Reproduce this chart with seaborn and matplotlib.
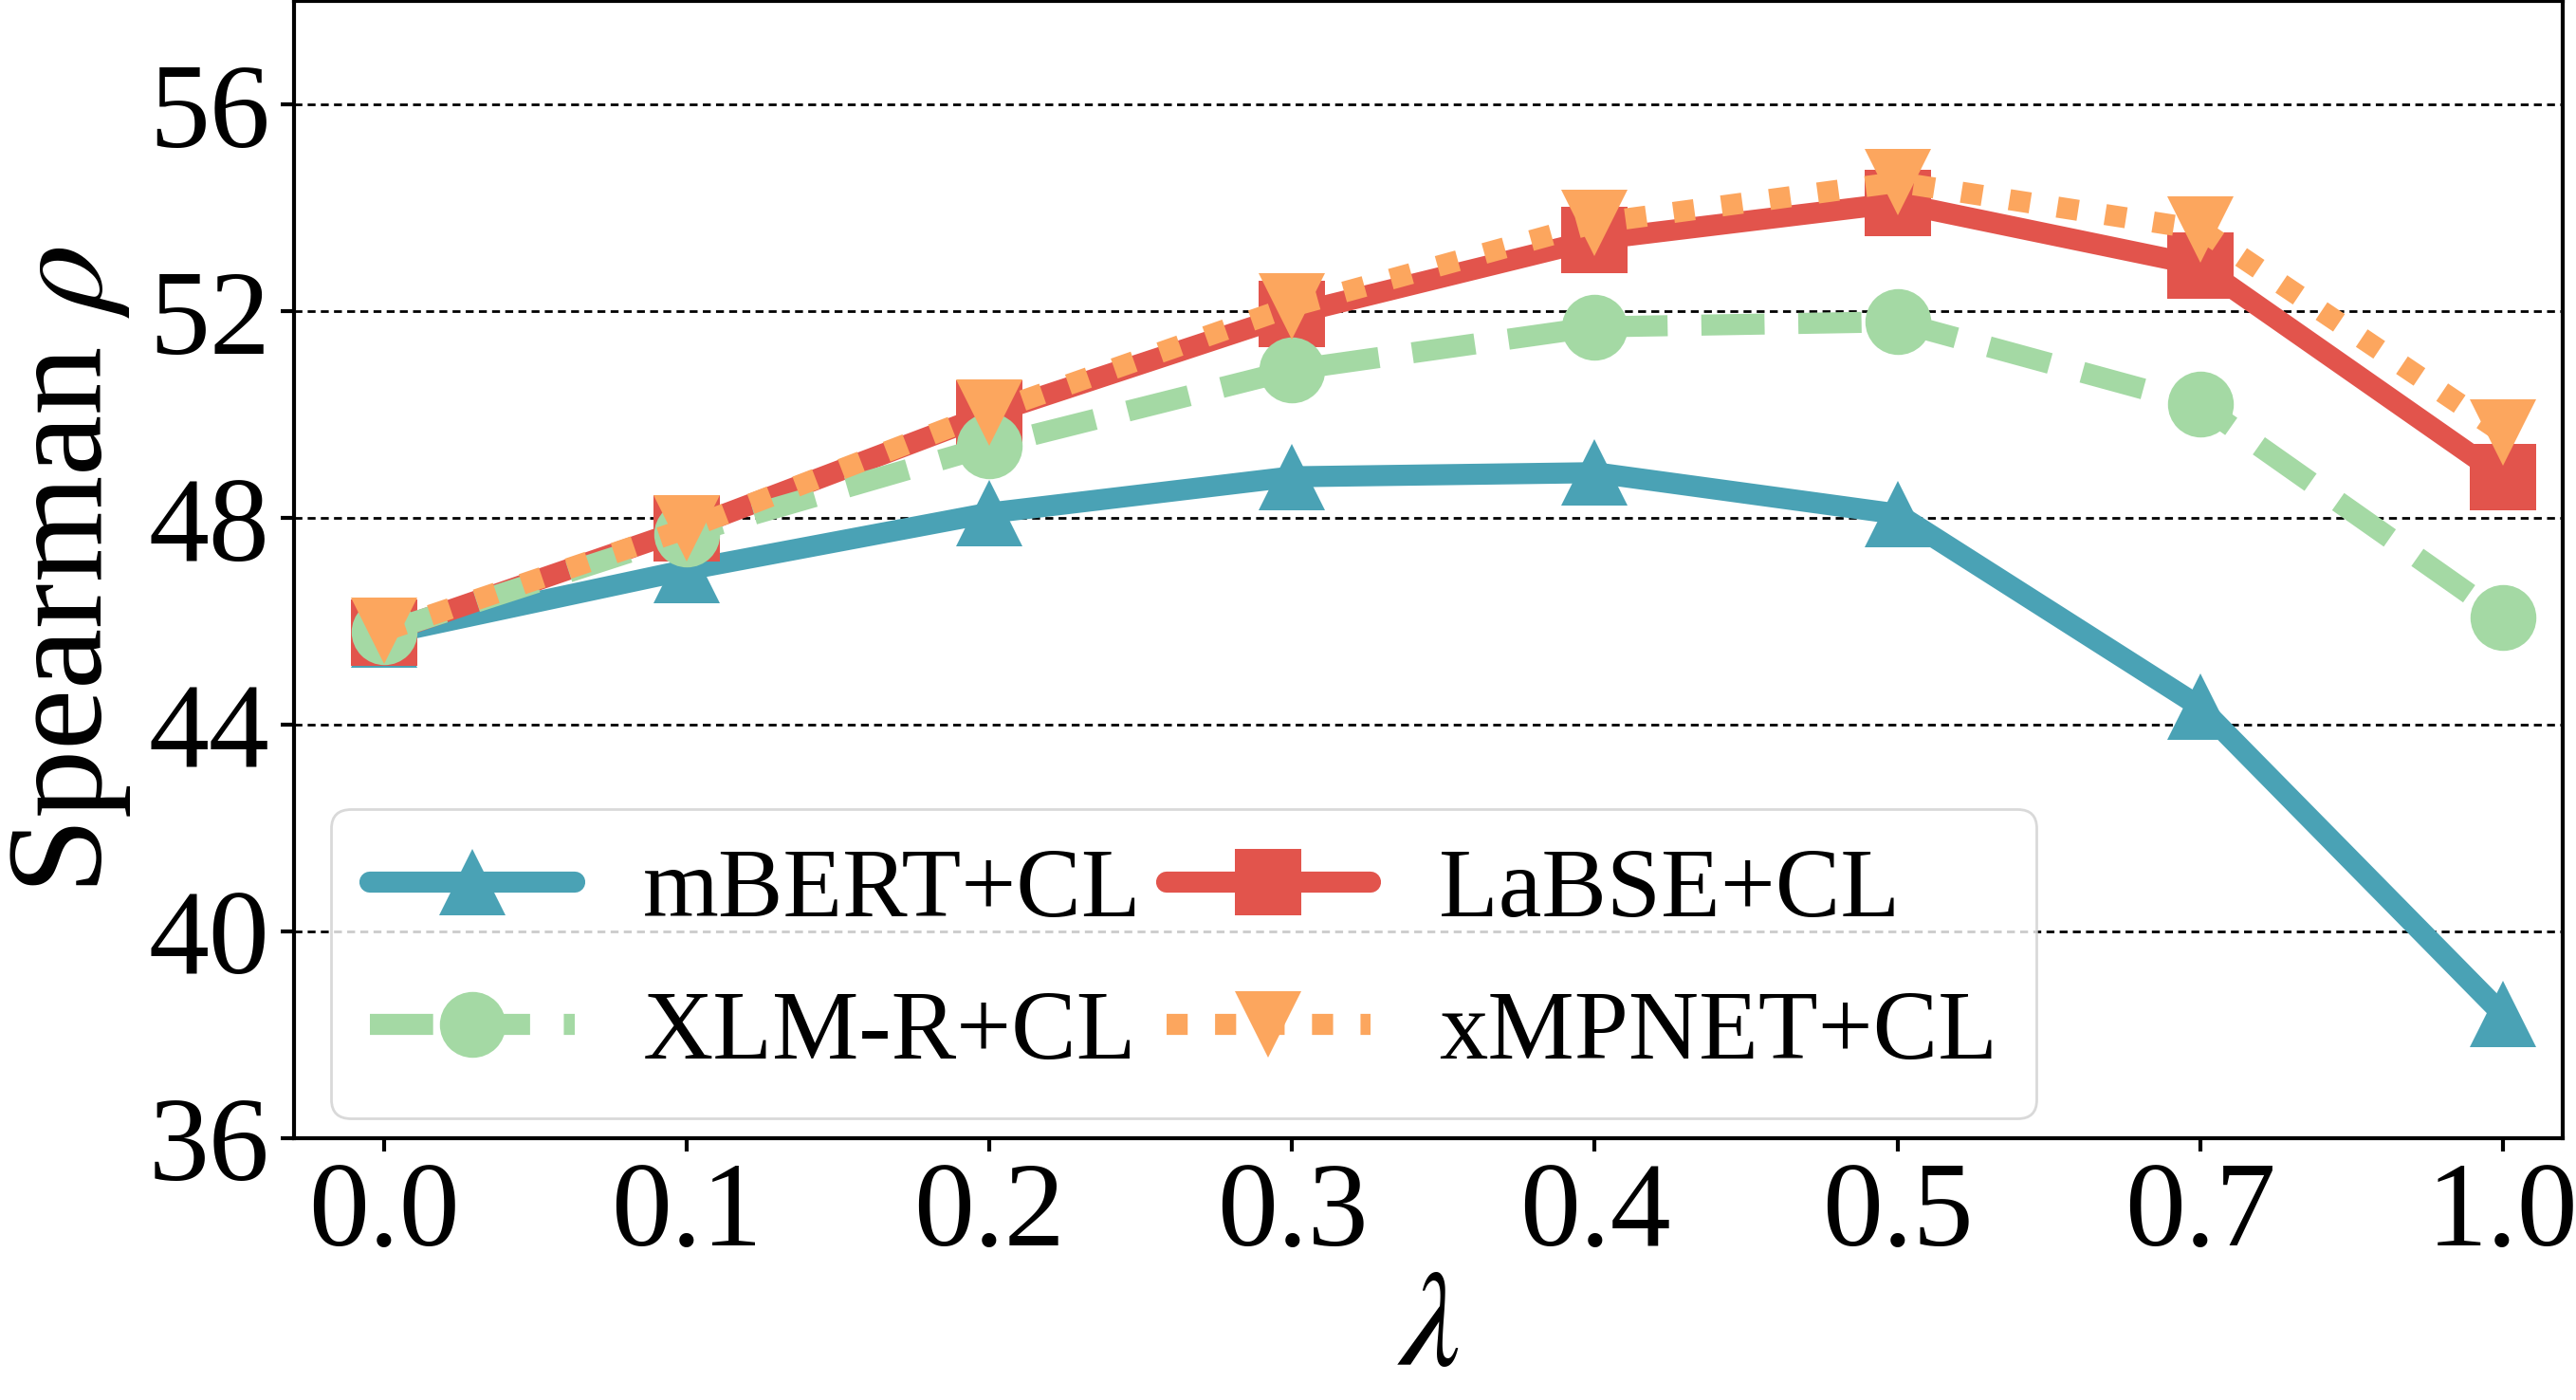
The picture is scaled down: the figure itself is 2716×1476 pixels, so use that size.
import pandas as pd
import seaborn as sns
import matplotlib
matplotlib.use("Agg")
import matplotlib.pyplot as plt

lambdas = ["0.0", "0.1", "0.2", "0.3", "0.4", "0.5", "0.7", "1.0"]
mbert = [45.75, 47.0, 48.1, 48.8, 48.88, 48.08, 44.35, 38.4]
labse = [45.78, 47.8, 50.02, 51.95, 53.39, 54.1, 52.89, 48.8]
xlmr = [45.8, 47.7, 49.4, 50.87, 51.7, 51.8, 50.2, 46.08]
xmpnet = [45.82, 47.8, 50.05, 52.1, 53.71, 54.5, 53.59, 49.65]

models = ["mBERT+CL", "LaBSE+CL", "XLM-R+CL", "xMPNET+CL"]
colors = ["#4aa2b5", "#e2544c", "#a4d9a4", "#fca65e"]
markers = ["^", "s", "o", "v"]
styles = ["-", "-", (0, (3, 1.6)), (0, (1, 1.3))]


def plot(df):
    sns.set_theme(style="white")
    plt.rcParams["font.family"] = ["Liberation Serif", "DejaVu Serif"]
    plt.rcParams["mathtext.fontset"] = "stix"
    for k in ["text.color", "axes.labelcolor", "xtick.color", "ytick.color"]:
        plt.rcParams[k] = "black"

    fig, ax = plt.subplots(figsize=(13.58, 7.38), dpi=200)
    for name, c, m, ls in zip(models, colors, markers, styles):
        sub = df[df["model"] == name]
        sns.lineplot(data=sub, x="pos", y="score", ax=ax, color=c, marker=m,
                     linestyle=ls, linewidth=8, markersize=25,
                     markeredgewidth=0, label=name)

    ax.set_xticks(range(len(lambdas)))
    ax.set_xticklabels(lambdas)
    ax.set_xlim(-0.3, 7.2)
    ax.set_ylim(36, 58)
    ax.set_yticks([36, 40, 44, 48, 52, 56])
    ax.yaxis.grid(True, color="black", linestyle=(0, (3, 2)), linewidth=1.0)
    ax.set_axisbelow(True)
    for s in ax.spines.values():
        s.set_color("black")
        s.set_linewidth(1.5)
    ax.tick_params(axis="both", labelsize=46, length=5, width=1.5, color="black",
                   left=True, bottom=True, pad=4)
    ax.set_xlabel(r"$\lambda$", fontsize=52, labelpad=0)
    ax.set_ylabel(r"Spearman $\rho$", fontsize=52, labelpad=6)

    h, l = ax.get_legend_handles_labels()
    order = [0, 2, 1, 3]
    ax.legend([h[i] for i in order], [l[i] for i in order], ncol=2, loc="lower left",
              bbox_to_anchor=(0.008, 0.0), fontsize=37, handlelength=2.1,
              columnspacing=0.25, handletextpad=0.7, frameon=True, fancybox=True,
              edgecolor="#d0d0d0", borderpad=0.4, labelspacing=0.55,
              borderaxespad=0.2)

    fig.subplots_adjust(left=0.114, right=0.995, top=0.999, bottom=0.187)
    fig.savefig("out.png", dpi=200)


def main():
    rows = []
    for name, vals in zip(models, [mbert, labse, xlmr, xmpnet]):
        for i, v in enumerate(vals):
            rows.append([name, i, lambdas[i], v])
    df = pd.DataFrame(rows, columns=["model", "pos", "lam", "score"])
    plot(df)


if __name__ == "__main__":
    main()
